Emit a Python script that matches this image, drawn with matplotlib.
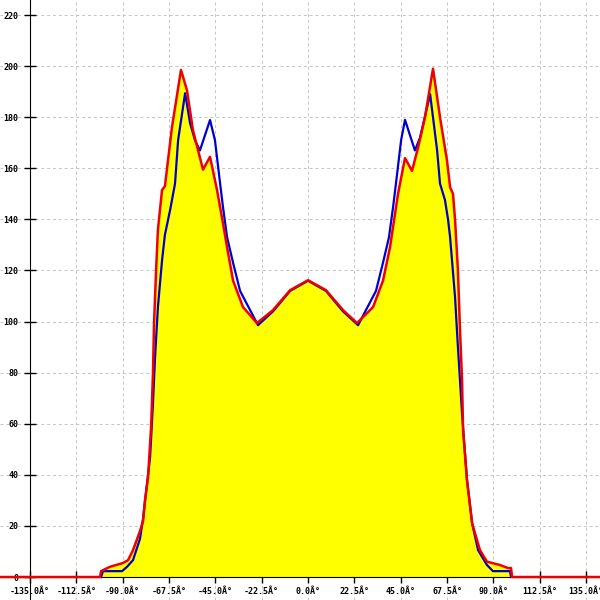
import matplotlib
matplotlib.use("Agg")
import matplotlib.pyplot as plt
import numpy as np

# angle (deg) / value pairs
red_x = [-150, -101.0, -100.5, -96.2, -89.8, -87.4, -85.0, -81.6, -80.1, -79.2, -77.7, -76.2,
         -75.3, -74.8, -73.8, -72.9, -70.9, -69.5, -66.1, -61.7, -58.8, -55.9, -53.4, -51.0,
         -47.6, -44.2, -41.3, -39.3, -36.4, -31.6, -24.8, -17.0, -8.7, 0.0,
         8.7, 17.0, 23.8, 31.6, 36.4, 39.8, 43.7, 47.1, 50.5, 53.4, 56.8, 60.7, 64.1, 67.5,
         69.0, 70.4, 71.4, 72.8, 73.8, 74.8, 75.3, 77.2, 79.7, 83.5, 86.9, 93.2, 97.1, 98.6,
         99.1, 142]
red_y = [0, 0, 2.3, 4, 5.5, 6.6, 10.5, 18, 22, 30, 39, 59,
         80, 99, 120, 136, 151.5, 153, 176, 198.5, 190.6, 175, 167, 159.5,
         164.5, 151.5, 138.5, 129, 116, 105.7, 99.4, 104.5, 112.3, 116.2,
         112.3, 104.5, 99.4, 105.7, 116, 129, 150, 164, 159, 168, 180, 199, 180, 163,
         152.6, 150, 140, 120, 97, 77, 57.5, 38, 21, 10.5, 6, 4.7, 3.5, 3.5,
         0, 0]

blue_x = [-100.5, -99.6, -90.3, -87.9, -85.0, -81.6, -80.1, -77.7, -76.7, -75.3, -74.3,
          -72.9, -70.9, -69.5, -67.0, -64.6, -63.1, -59.7, -57.3, -54.9, -52.5, -47.6, -45.2,
          -42.7, -41.3, -39.3, -36.4, -33.0, -24.3, -17.0, -8.7, 0.0,
          8.7, 17.0, 24.3, 33.0, 36.4, 39.3, 41.3, 42.7, 45.2, 47.1, 51.9, 54.4, 59.3, 62.7,
          64.1, 66.5, 68.0, 69.0, 71.4, 72.8, 74.8, 77.2, 79.7, 82.6, 86.9, 89.8, 98.1, 98.6]
blue_y = [0, 2.3, 2.3, 4, 6.6, 15, 23, 40, 47, 68, 86,
          105.7, 124, 134, 143.6, 154, 171, 189.4, 177.7, 171, 167, 178.9, 171,
          154, 144.8, 133, 123, 112, 98.6, 104, 112, 116,
          112, 104, 98.6, 112, 123, 133, 144.8, 154, 171, 179, 167, 172, 189, 167,
          154, 147.6, 140, 133, 109.6, 90, 64, 38, 21, 10.5, 4.7, 2.3, 2.3, 0]

x_ticks = np.arange(-135, 135.1, 22.5)
x_labels = ["%.1fÂ°" % t for t in x_ticks]
y_ticks = np.arange(0, 221, 20)

fig = plt.figure(figsize=(6, 6), dpi=100)
ax = fig.add_axes([0, 0, 1, 1])

ax.fill_between(red_x, red_y, 0, color="#ffff00", lw=0, zorder=1)
ax.plot(blue_x, blue_y, color="#0000cc", lw=1.6, zorder=3)
ax.plot(red_x, red_y, color="#ee0000", lw=1.8, zorder=4)

ax.set_xlim(-149.6, 141.8)
ax.set_ylim(-9.0, 225.9)

ax.spines["top"].set_visible(False)
ax.spines["right"].set_visible(False)
ax.spines["left"].set_position(("data", -135))
ax.spines["bottom"].set_position(("data", 0))

ax.set_xticks(x_ticks)
ax.set_xticklabels(x_labels)
ax.set_yticks(y_ticks)
ax.tick_params(direction="inout", length=8, width=1, labelsize=6)
ax.tick_params(axis="x", pad=3.5)
ax.tick_params(axis="y", pad=4.3)
for lab in ax.get_xticklabels() + ax.get_yticklabels():
    lab.set_family("DejaVu Sans Mono")
    lab.set_weight("bold")

ax.grid(True, color="#c4c4c4", linestyle=(0, (3, 3)), lw=0.7, zorder=0)
ax.set_axisbelow(True)

fig.savefig("out.png", dpi=100)
